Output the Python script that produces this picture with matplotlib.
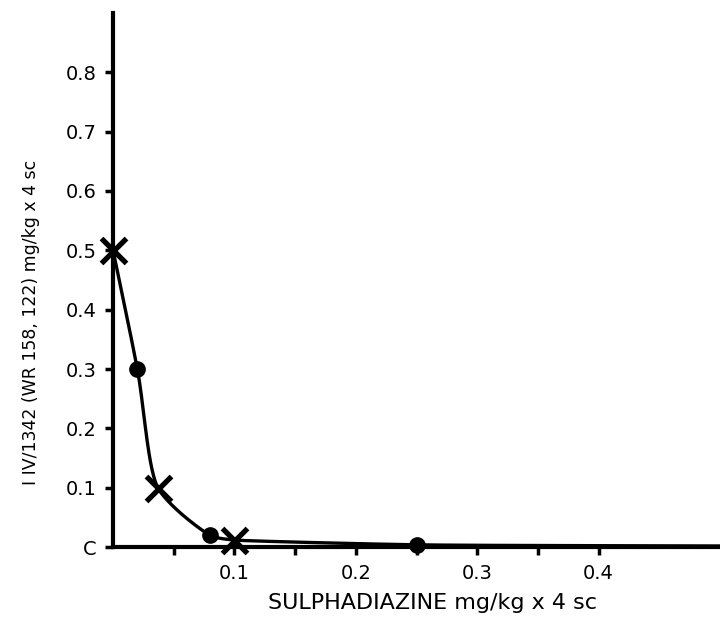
import numpy as np
import matplotlib
matplotlib.use("Agg")
import matplotlib.pyplot as plt

# data
cross_x = [0.0, 0.037, 0.10]
cross_y = [0.50, 0.10, 0.012]
dot_x = [0.02, 0.08, 0.25]
dot_y = [0.30, 0.020, 0.004]
curve_x = [0.0, 0.02, 0.037, 0.08, 0.10, 0.25, 0.50]
curve_y = [0.50, 0.30, 0.10, 0.020, 0.012, 0.004, 0.002]

y_ticks = [0, 0.1, 0.2, 0.3, 0.4, 0.5, 0.6, 0.7, 0.8]
y_ticklabels = ["C", "0.1", "0.2", "0.3", "0.4", "0.5", "0.6", "0.7", "0.8"]
x_ticks = [0.1, 0.2, 0.3, 0.4]
x_ticklabels = ["0.1", "0.2", "0.3", "0.4"]
x_minor = [0.05, 0.15, 0.25, 0.35]


def smooth_bezier(px, py, n=80, k=0.3):
    P = np.column_stack([px, py]).astype(float)
    m = len(P)
    chords = np.diff(P, axis=0)
    lens = np.linalg.norm(chords, axis=1)
    units = chords / lens[:, None]
    tang = np.zeros_like(P)
    hl = np.zeros(m)
    tang[0] = units[0]
    tang[-1] = units[-1]
    hl[0] = lens[0] * k
    hl[-1] = lens[-1] * k
    for i in range(1, m - 1):
        v = units[i - 1] + units[i]
        tang[i] = v / np.linalg.norm(v)
        hl[i] = min(lens[i - 1], lens[i]) * k
    out = []
    t = np.linspace(0, 1, n)[:, None]
    for i in range(m - 1):
        b0 = P[i]
        b3 = P[i + 1]
        b1 = b0 + tang[i] * min(hl[i], lens[i] / 3)
        b2 = b3 - tang[i + 1] * min(hl[i + 1], lens[i] / 3)
        c = ((1 - t) ** 3) * b0 + 3 * ((1 - t) ** 2) * t * b1 + 3 * (1 - t) * t ** 2 * b2 + t ** 3 * b3
        out.append(c)
    return np.vstack(out)


plt.rcParams['font.family'] = ['DejaVu Sans']
fig = plt.figure(figsize=(7.2, 6.37), dpi=100)
ax = fig.add_axes([0.157, 0.141, 0.843, 0.839])

# smooth curve in screen-like units (x scaled by axis width, y by axis height)
sx = 607 / 0.5
sy = 535 / 0.9
pts = smooth_bezier(np.array(curve_x) * sx, np.array(curve_y) * sy)
ax.plot(pts[:, 0] / sx, pts[:, 1] / sy, color='black', lw=2.4, clip_on=False, zorder=3)
ax.plot(dot_x, dot_y, 'o', color='black', ms=11, clip_on=False, zorder=4)
ax.plot(cross_x, cross_y, 'x', color='black', ms=18, mew=3.8, clip_on=False, zorder=4)

ax.set_xlim(0, 0.5)
ax.set_ylim(0, 0.9)
for s in ['top', 'right']:
    ax.spines[s].set_visible(False)
for s in ['left', 'bottom']:
    ax.spines[s].set_linewidth(3)

ax.set_yticks(y_ticks)
ax.set_yticklabels(y_ticklabels, fontsize=14)
ax.set_xticks(x_ticks)
ax.set_xticklabels(x_ticklabels, fontsize=14)
ax.set_xticks(x_minor, minor=True)
ax.tick_params(axis='both', which='both', direction='out', length=6, width=2.5, pad=6)

ax.set_xlabel("SULPHADIAZINE mg/kg x 4 sc", fontsize=16)
ax.xaxis.set_label_coords(0.527, -0.085)
ax.set_ylabel("I IV/1342 (WR 158, 122) mg/kg x 4 sc", fontsize=12.5)
ax.yaxis.set_label_coords(-0.12, 0.42)

fig.savefig("out.png", dpi=100)
